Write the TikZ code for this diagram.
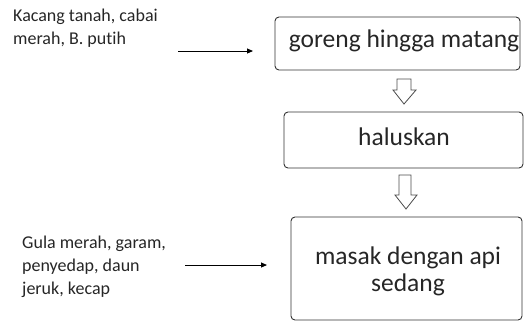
\documentclass[tikz,border=0pt]{standalone}
\usepackage{fontspec}
\setmainfont[Ligatures=NoCommon]{Carlito}
\usetikzlibrary{arrows.meta}
\begin{document}
\begin{tikzpicture}[x=1bp,y=-1bp,
  box/.style={draw=black!80, line width=0.9bp, rounded corners=4bp, inner sep=0pt},
  boxtext/.style={font=\fontsize{25.5bp}{27bp}\selectfont, text=black!85, inner sep=0pt, align=center},
  lbl/.style={font=\fontsize{18bp}{23bp}\selectfont, text=black!85, inner sep=0pt, align=left, anchor=north west},
  feed/.style={draw=black, line width=0.9bp, -{Triangle[length=6bp,width=5bp]}},
  hollow/.style={draw=black!70, line width=0.8bp, fill=white, line join=miter}
]
\useasboundingbox (0,0) rectangle (525,322);
% boxes
\node[box, minimum width=245bp, minimum height=53bp] (b1) at (397.5,43.5) {};
\node[boxtext, anchor=base] (t1) at (404,47) {goreng hingga matang};
\node[box, minimum width=239bp, minimum height=56bp] (b2) at (403.5,140) {};
\node[boxtext, anchor=base] (t2) at (404,145) {haluskan};
\node[box, minimum width=231bp, minimum height=103bp] (b3) at (406.5,268.5) {};
\node[boxtext, anchor=center] (t3) at (408,271) {masak dengan api\\sedang};
% left labels
\node[lbl] (l1) at (13,9) {Kacang tanah, cabai\\merah, B. putih};
\node[lbl] (l2) at (22,236) {Gula merah, garam,\\penyedap, daun\\jeruk, kecap};
% feed arrows
\coordinate (a1s) at (178,51);
\coordinate (a1e) at (253,51);
\draw[feed] (a1s) -- (a1e);
\coordinate (a2s) at (185,265);
\coordinate (a2e) at (267,265);
\draw[feed] (a2s) -- (a2e);
% hollow block arrows
\draw[hollow] (397,79) -- (411,79) -- (411,90) -- (416,90) -- (404,104) -- (393,90) -- (397,90) -- cycle;
\draw[hollow] (399,175) -- (411,175) -- (411,195) -- (417,195) -- (406,209) -- (395,195) -- (399,195) -- cycle;
\end{tikzpicture}
\end{document}
